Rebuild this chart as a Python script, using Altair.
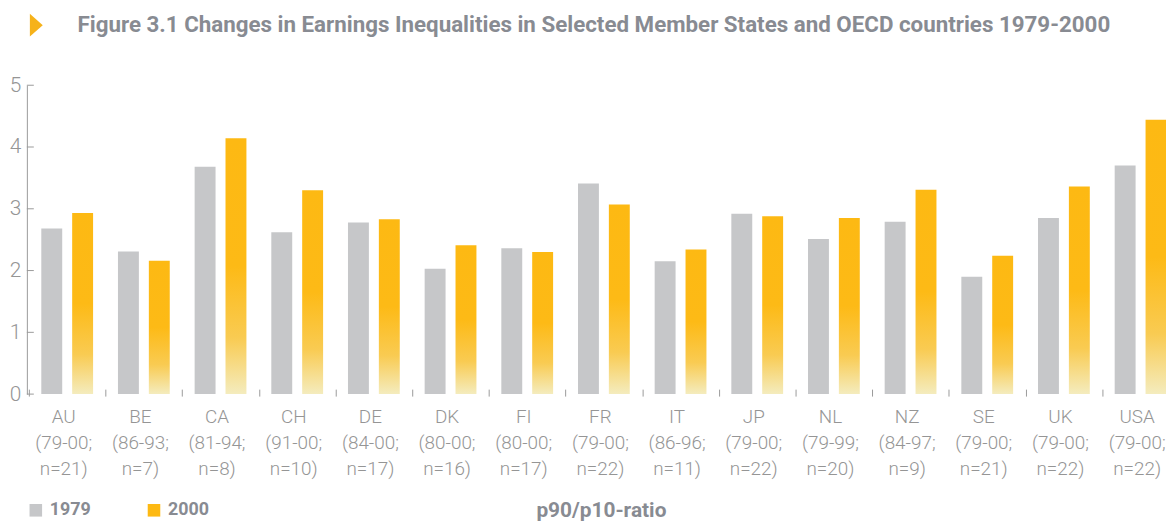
import altair as alt
import pandas as pd

# ---------------- data ----------------
countries = ["AU", "BE", "CA", "CH", "DE", "DK", "FI", "FR", "IT", "JP", "NL", "NZ", "SE", "UK", "USA"]
periods = ["79-00", "86-93", "81-94", "91-00", "84-00", "80-00", "80-00", "79-00",
           "86-96", "79-00", "79-99", "84-97", "79-00", "79-00", "79-00"]
n_obs = [21, 7, 8, 10, 17, 16, 17, 22, 11, 22, 20, 9, 21, 22, 22]
values_1979 = [2.68, 2.31, 3.68, 2.62, 2.78, 2.03, 2.36, 3.41, 2.15, 2.92, 2.51, 2.79, 1.90, 2.85, 3.70]
values_2000 = [2.93, 2.16, 4.14, 3.30, 2.83, 2.41, 2.30, 3.07, 2.34, 2.88, 2.85, 3.31, 2.24, 3.36, 4.44]
years = ["1979", "2000"]
y_ticks = [0, 1, 2, 3, 4, 5]
title_text = "Figure 3.1 Changes in Earnings Inequalities in Selected Member States and OECD countries 1979-2000"
measure_label = "p90/p10-ratio"

# ---------------- tables ----------------
labels = [f"{c}|({p};|n={n})" for c, p, n in zip(countries, periods, n_obs)]
rows = []
for lab, v79, v00 in zip(labels, values_1979, values_2000):
    rows.append({"label": lab, "year": "1979", "value": v79})
    rows.append({"label": lab, "year": "2000", "value": v00})
df = pd.DataFrame(rows)
ticks_df = pd.DataFrame({"value": y_ticks})
title_df = pd.DataFrame({"text": [title_text]})

# ---------------- styling ----------------
FONT = "Roboto"
GREY_BAR = "#C6C7C9"
GOLD = "#FDB913"
TEXT_BOLD = "#888B92"
AXIS_TXT = "#959595"
LINE = "#9A9A9A"

gold_gradient = alt.Gradient(
    gradient="linear",
    stops=[
        alt.GradientStop(color="#FDB913", offset=0),
        alt.GradientStop(color="#FDBA16", offset=0.5),
        alt.GradientStop(color="#F9CB52", offset=0.78),
        alt.GradientStop(color="#F4ECBE", offset=1),
    ],
    x1=0, x2=0, y1=0, y2=1,
)

x_enc = alt.X(
    "label:N",
    sort=labels,
    scale=alt.Scale(paddingInner=0, paddingOuter=0, range=[2, 1160]),
    axis=alt.Axis(
        title=measure_label,
        domain=False,
        ticks=True,
        tickBand="extent",
        tickSize=7,
        tickColor=LINE,
        tickWidth=1,
        offset=-5,
        labelExpr="split(datum.label, '|')",
        labelFont=FONT,
        labelFontSize=19,
        labelFontWeight=300,
        labelColor=AXIS_TXT,
        labelLineHeight=26,
        labelPadding=12,
        labelOffset=-4,
        labelAngle=0,
        labelBaseline="top",
        labelOverlap=False,
        labelBound=False,
        titleFont=FONT,
        titleFontSize=21,
        titleFontWeight="bold",
        titleColor=TEXT_BOLD,
        titleX=578,
        titleY=111,
        titleBaseline="top",
    ),
)
xoff_enc = alt.XOffset(
    "year:N",
    scale=alt.Scale(domain=years, paddingInner=0.3226, paddingOuter=0.403),
)
y_axis = alt.Axis(
    values=y_ticks,
    ticks=False,
    tickSize=0,
    domain=True,
    domainColor=LINE,
    domainWidth=1,
    labelFont=FONT,
    labelFontSize=21,
    labelFontWeight=300,
    labelColor=AXIS_TXT,
    labelPadding=6,
    grid=False,
    title=None,
)
y_enc = alt.Y("value:Q", scale=alt.Scale(domain=[0, 5], nice=False), axis=y_axis)

base = alt.Chart(df)

bars79 = base.transform_filter(alt.datum.year == "1979").mark_bar().encode(
    x=x_enc,
    xOffset=xoff_enc,
    y=y_enc,
    color=alt.Color(
        "year:N",
        scale=alt.Scale(domain=years, range=[GREY_BAR, GOLD]),
        legend=alt.Legend(
            orient="none",
            legendX=0,
            legendY=419,
            direction="horizontal",
            title=None,
            symbolType="square",
            symbolSize=160,
            symbolStrokeWidth=0,
            symbolOpacity=1,
            labelFont=FONT,
            labelFontSize=18,
            labelFontWeight="bold",
            labelColor=TEXT_BOLD,
            labelOffset=5,
            columnPadding=54,
        ),
    ),
)

bars00 = base.transform_filter(alt.datum.year == "2000").mark_bar(color=gold_gradient).encode(
    x=x_enc,
    xOffset=xoff_enc,
    y=y_enc,
)

tick_rules = alt.Chart(ticks_df).mark_rule(color=LINE, strokeWidth=1).encode(
    y=y_enc,
    x=alt.value(0),
    x2=alt.value(7),
)

triangle = alt.Chart(title_df).mark_point(
    shape="M-0.565,-1L0.565,0L-0.565,1Z", filled=True, size=529, color="#F6B21A", opacity=1, strokeWidth=0
).encode(x=alt.value(9.5), y=alt.value(-60.5))

title = alt.Chart(title_df).mark_text(
    align="left", baseline="middle", font=FONT, fontSize=22.5, fontWeight="bold", color=TEXT_BOLD
).encode(text="text:N", x=alt.value(51), y=alt.value(-60.5))

chart = alt.layer(bars79, bars00, tick_rules, triangle, title).properties(
    width=1147,
    height=311,
    padding={"left": 19, "top": 76, "right": 0, "bottom": 126},
    autosize=alt.AutoSizeParams(type="none"),
).configure_view(strokeWidth=0, stroke="transparent")

chart.save("out.html", embed_options={"renderer": "svg", "actions": False})
